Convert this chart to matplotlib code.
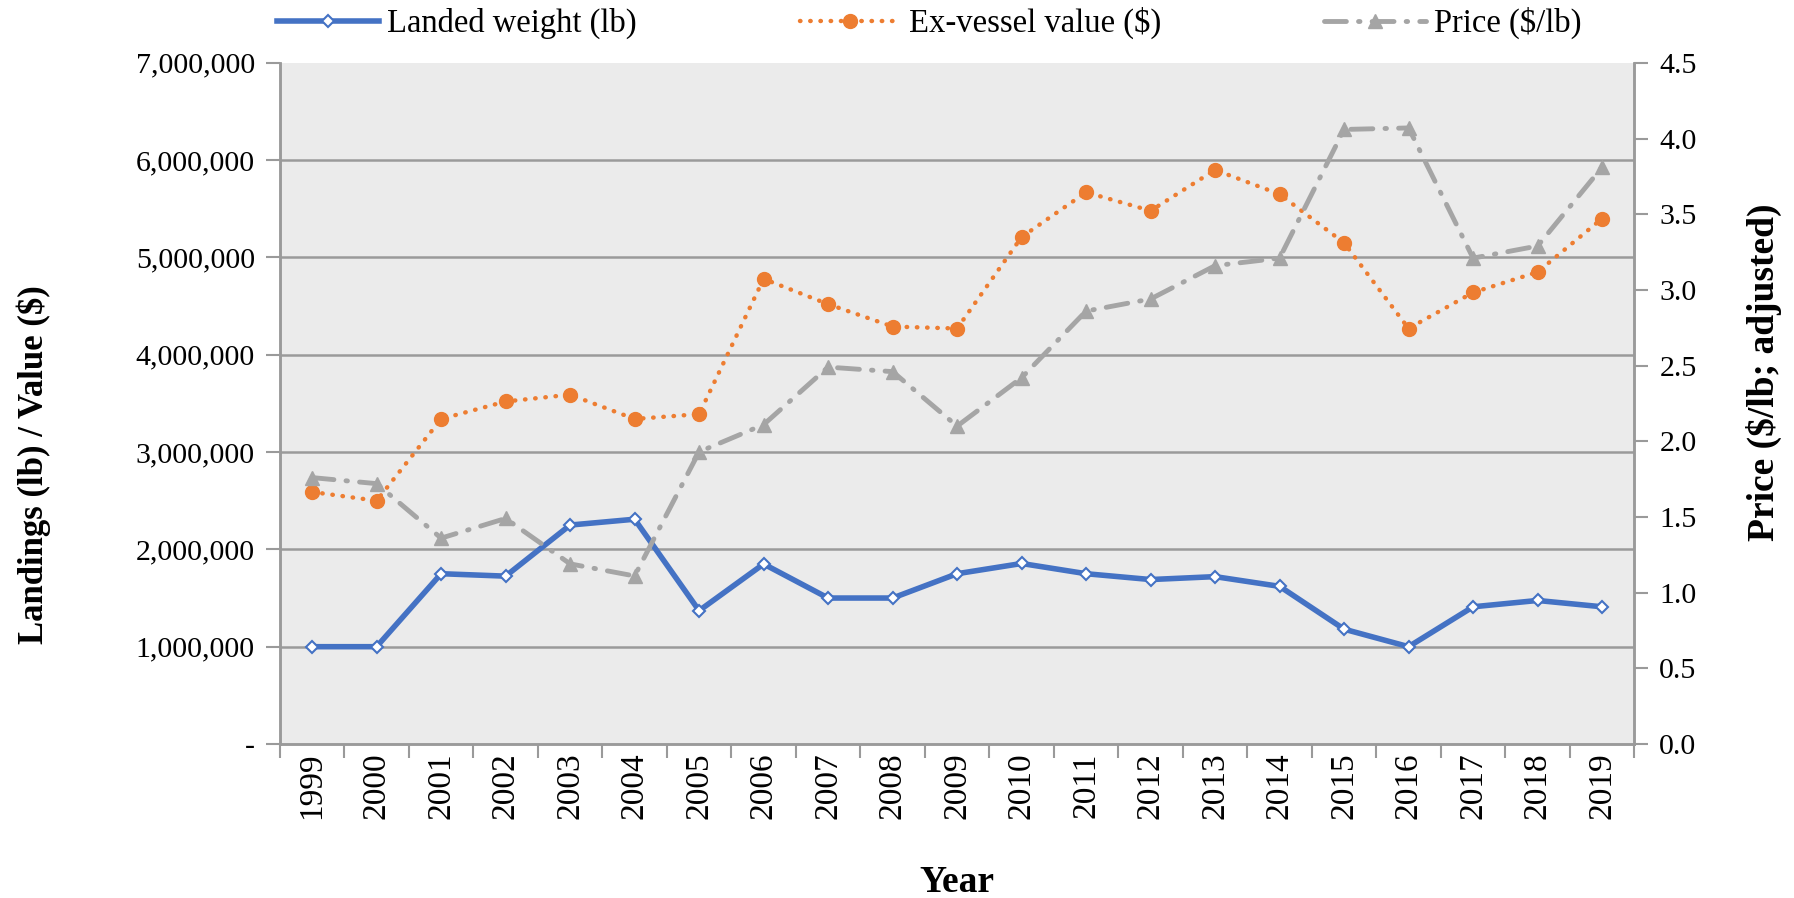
import matplotlib
matplotlib.use("Agg")
import matplotlib.pyplot as plt
from matplotlib.ticker import FuncFormatter, FixedLocator

years = [str(y) for y in range(1999, 2020)]
landed_lb = [1000000, 1000000, 1750000, 1725000, 2250000, 2310000, 1370000, 1850000,
             1500000, 1500000, 1750000, 1855000, 1750000, 1690000, 1720000, 1620000,
             1180000, 1000000, 1410000, 1475000, 1410000]
value_usd = [2590000, 2500000, 3340000, 3520000, 3590000, 3340000, 3390000, 4780000,
             4520000, 4290000, 4270000, 5210000, 5670000, 5480000, 5900000, 5650000,
             5150000, 4270000, 4640000, 4850000, 5400000]
price = [1.76, 1.72, 1.36, 1.49, 1.19, 1.11, 1.93, 2.11, 2.49, 2.46, 2.10, 2.42,
         2.86, 2.94, 3.16, 3.21, 4.06, 4.07, 3.21, 3.29, 3.81]
left_ticks = [0, 1000000, 2000000, 3000000, 4000000, 5000000, 6000000, 7000000]
right_ticks = [0.0, 0.5, 1.0, 1.5, 2.0, 2.5, 3.0, 3.5, 4.0, 4.5]

plt.rcParams['font.family'] = ['Liberation Serif', 'DejaVu Serif']

fig = plt.figure(figsize=(17.94, 8.98), dpi=100)
ax = fig.add_axes([0.156, 0.1715, 0.755, 0.7585])
ax2 = ax.twinx()

x = list(range(len(years)))
grid_c = '#9a9a9a'
ax.set_facecolor('#ebebeb')

l1, = ax.plot(x, landed_lb, color='#4472C4', lw=4, marker='D', markersize=6.5,
              markerfacecolor='white', markeredgecolor='#4472C4', markeredgewidth=1.5,
              label='Landed weight (lb)', zorder=3)
l2, = ax.plot(x, value_usd, color='#ED7D31', lw=3.2, linestyle=(0, (0.1, 2.2)),
              dash_capstyle='round', marker='o', markersize=10,
              label='Ex-vessel value ($)', zorder=4)
l3, = ax2.plot(x, price, color='#A5A5A5', lw=3.5, linestyle=(0, (4.5, 2.5, 0.3, 2.5)),
               dash_capstyle='round', marker='^', markersize=10,
               label='Price ($/lb)', zorder=3)

ax.set_xlim(-0.5, len(years) - 0.5)
ax.set_ylim(0, 7000000)
ax2.set_ylim(0, 4.5)

ax.set_yticks(left_ticks)
ax.yaxis.set_major_formatter(FuncFormatter(lambda v, p: '-' if v == 0 else f'{int(v):,}'))
ax2.set_yticks(right_ticks)
ax2.set_yticklabels([f'{t:.1f}' for t in right_ticks])

ax.set_xticks(x)
ax.set_xticklabels(years, rotation=90)
ax.tick_params(axis='x', which='major', length=0, pad=6, labelsize=24)
ax.xaxis.set_minor_locator(FixedLocator([i - 0.5 for i in range(len(years) + 1)]))
ax.tick_params(axis='x', which='minor', length=10, width=1.5, color=grid_c)
ax.tick_params(axis='y', length=10, width=1.5, color=grid_c, labelsize=21.5, pad=8)
ax2.tick_params(axis='y', length=10, width=1.5, color=grid_c, labelsize=21.5, pad=8)

for v in left_ticks[1:-1]:
    ax.axhline(v, color=grid_c, lw=1.8, zorder=1)

for a in (ax, ax2):
    a.spines['top'].set_visible(False)
    for s in ('left', 'right', 'bottom'):
        a.spines[s].set_color(grid_c)
        a.spines[s].set_linewidth(1.8)

ax.set_xlabel('Year', fontsize=27, fontweight='bold')
ax.xaxis.set_label_coords(0.5, -0.178)
ax.set_ylabel('Landings (lb) / Value ($)', fontsize=25, fontweight='bold')
ax.yaxis.set_label_coords(-0.169, 0.41)
ax2.set_ylabel('Price ($/lb; adjusted)', fontsize=27, fontweight='bold', rotation=90)
ax2.yaxis.set_label_coords(1.082, 0.546)

fig.legend(handles=[l1, l2, l3], loc='center', bbox_to_anchor=(0.518, 0.974),
           ncol=3, frameon=False, fontsize=23.5, handlelength=3.1, columnspacing=5.0,
           handletextpad=0.25)

fig.savefig('out.png', dpi=100)
